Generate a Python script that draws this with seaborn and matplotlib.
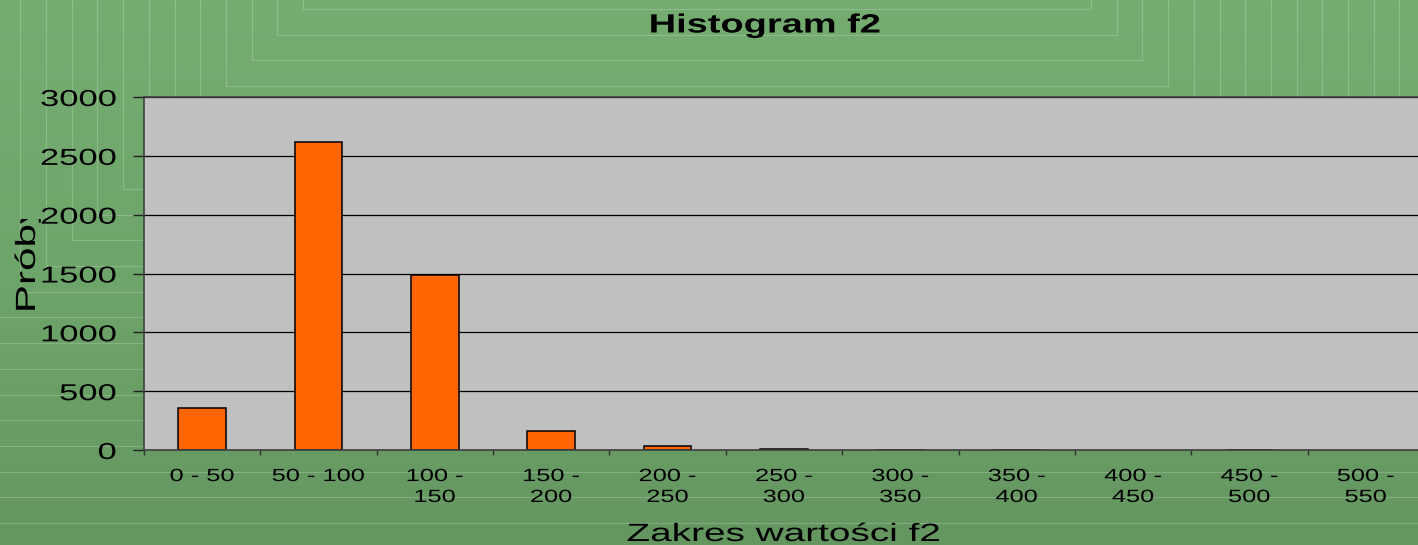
import numpy as np
import pandas as pd
import matplotlib.pyplot as plt
import seaborn as sns
from matplotlib.patches import Rectangle
from matplotlib.patheffects import AbstractPathEffect
from matplotlib.transforms import Affine2D, Bbox, TransformedBbox
from matplotlib.colors import LinearSegmentedColormap


# histogram data
zakresy = ["0 - 50", "50 - 100", "100 -\n150", "150 -\n200", "200 -\n250", "250 -\n300",
           "300 -\n350", "350 -\n400", "400 -\n450", "450 -\n500", "500 -\n550"]
proby = [360, 2615, 1485, 165, 38, 12, 4, 4, 0, 3, 0]
y_ticks = [0, 500, 1000, 1500, 2000, 2500, 3000]

TITLE = "Histogram f2"
X_LABEL = "Zakres wartości f2"
Y_LABEL = "Próby"

W, H = 1418, 545


class Stretch(AbstractPathEffect):
    """widen glyphs horizontally, the source chart has stretched text"""
    def __init__(self, sx=1.5, anchor="center"):
        super().__init__()
        self.sx = sx
        self.anchor = anchor

    def draw_path(self, renderer, gc, tpath, affine, rgbFace=None):
        if len(tpath.vertices):
            ext = tpath.get_extents()
            if self.anchor == "right":
                c = ext.x1
            elif self.anchor == "left":
                c = ext.x0
            else:
                c = (ext.x0 + ext.x1) / 2
            t = Affine2D().translate(-c, 0).scale(self.sx, 1).translate(c, 0)
            affine = t + affine
        renderer.draw_path(gc, tpath, affine, rgbFace)


sns.set_theme(style="white")
plt.rcParams["font.family"] = ["Liberation Sans", "DejaVu Sans"]
plt.rcParams["text.color"] = "black"

df = pd.DataFrame({"zakres": zakresy, "proby": proby})

fig = plt.figure(figsize=(W / 100, H / 100), dpi=100)

# green slide background with faint nested frames
bg = fig.add_axes([0, 0, 1, 1], zorder=0)
grad = LinearSegmentedColormap.from_list("g", ["#75ad71", "#6ea56a", "#649760"])
bg.imshow(np.linspace(0, 1, 256).reshape(-1, 1), cmap=grad, aspect="auto",
          extent=[0, W, H, 0])
for k in range(26):
    hw = 394 + 25.7 * k
    bg.add_patch(Rectangle((697 - hw, -10), 2 * hw, hw - 385 + 10, fill=False,
                           edgecolor="white", lw=0.8, alpha=0.2))
bg.set_xlim(0, W)
bg.set_ylim(H, 0)
bg.axis("off")

ax = fig.add_axes([144 / W, (H - 450) / H, 1280 / W, 353 / H], zorder=1)
ax.set_facecolor("#c0c0c0")

sns.barplot(data=df, x="zakres", y="proby", order=zakresy, color="#ff6600",
            saturation=1, width=0.41, edgecolor="black", linewidth=1.1, ax=ax)
for p in ax.patches:
    if p.get_height() == 0:
        p.set_linewidth(0)

ax.set_xlim(-0.5, len(zakresy) - 0.5)
ax.set_ylim(0, 3000)
ax.set_yticks(y_ticks)
ax.set_yticklabels([str(v) for v in y_ticks])
ax.set_xticks(range(len(zakresy)))
ax.set_xticklabels(zakresy)
ax.set_xticks(np.arange(-0.5, len(zakresy), 1), minor=True)
ax.yaxis.grid(True, color="black", lw=0.9)
ax.xaxis.grid(False)
ax.set_axisbelow(True)
ax.set_xlabel("")
ax.set_ylabel("")

for side in ["left", "bottom", "top"]:
    ax.spines[side].set_color("#404040")
    ax.spines[side].set_linewidth(1.2)
ax.spines["right"].set_visible(False)

ax.tick_params(axis="y", which="major", left=True, length=8, width=1, color="#202020",
               pad=12, labelsize=16.6, labelcolor="black")
ax.tick_params(axis="x", which="major", bottom=False, length=0, pad=13,
               labelsize=12.7, labelcolor="black")
ax.tick_params(axis="x", which="minor", bottom=True, length=3.6, width=1, color="#303030")

for lbl in ax.get_yticklabels():
    lbl.set_path_effects([Stretch(1.5, "right")])
for lbl in ax.get_xticklabels():
    lbl.set_path_effects([Stretch(1.44, "center")])
    lbl.set_linespacing(1.3)

fig.text(765 / W, 1 - 32.5 / H, TITLE, ha="center", va="baseline", fontsize=19,
         fontweight="bold", color="black", path_effects=[Stretch(1.44, "center")])
fig.text(783.5 / W, 1 - 541 / H, X_LABEL, ha="center", va="baseline", fontsize=18,
         color="black", path_effects=[Stretch(1.55, "center")])
yl = fig.text(35 / W, 1 - 312 / H, Y_LABEL, rotation=90, rotation_mode="anchor",
              ha="left", va="baseline", fontsize=20, color="black",
              path_effects=[Stretch(1.52, "left")])
yl.set_clip_box(TransformedBbox(Bbox([[0, 0], [1, 1 - 219 / H]]), fig.transFigure))
yl.set_clip_on(True)

plt.savefig("out.png", dpi=100)
